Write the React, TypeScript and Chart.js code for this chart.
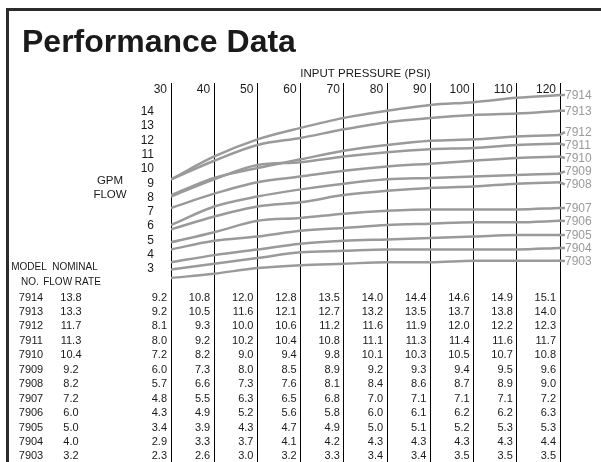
import React, { useEffect, useRef } from 'react';
import { Chart, registerables } from 'chart.js';

Chart.register(...registerables);

// ---- Data ----
const pressures = [30, 40, 50, 60, 70, 80, 90, 100, 110, 120];
const models = ['7914', '7913', '7912', '7911', '7910', '7909', '7908', '7907', '7906', '7905', '7904', '7903'];
const nominalFlow = [13.8, 13.3, 11.7, 11.3, 10.4, 9.2, 8.2, 7.2, 6.0, 5.0, 4.0, 3.2];
const flow7914 = [9.2, 10.8, 12.0, 12.8, 13.5, 14.0, 14.4, 14.6, 14.9, 15.1];
const flow7913 = [9.2, 10.5, 11.6, 12.1, 12.7, 13.2, 13.5, 13.7, 13.8, 14.0];
const flow7912 = [8.1, 9.3, 10.0, 10.6, 11.2, 11.6, 11.9, 12.0, 12.2, 12.3];
const flow7911 = [8.0, 9.2, 10.2, 10.4, 10.8, 11.1, 11.3, 11.4, 11.6, 11.7];
const flow7910 = [7.2, 8.2, 9.0, 9.4, 9.8, 10.1, 10.3, 10.5, 10.7, 10.8];
const flow7909 = [6.0, 7.3, 8.0, 8.5, 8.9, 9.2, 9.3, 9.4, 9.5, 9.6];
const flow7908 = [5.7, 6.6, 7.3, 7.6, 8.1, 8.4, 8.6, 8.7, 8.9, 9.0];
const flow7907 = [4.8, 5.5, 6.3, 6.5, 6.8, 7.0, 7.1, 7.1, 7.1, 7.2];
const flow7906 = [4.3, 4.9, 5.2, 5.6, 5.8, 6.0, 6.1, 6.2, 6.2, 6.3];
const flow7905 = [3.4, 3.9, 4.3, 4.7, 4.9, 5.0, 5.1, 5.2, 5.3, 5.3];
const flow7904 = [2.9, 3.3, 3.7, 4.1, 4.2, 4.3, 4.3, 4.3, 4.3, 4.4];
const flow7903 = [2.3, 2.6, 3.0, 3.2, 3.3, 3.4, 3.4, 3.5, 3.5, 3.5];
const flowSeries = [
  flow7914, flow7913, flow7912, flow7911, flow7910, flow7909,
  flow7908, flow7907, flow7906, flow7905, flow7904, flow7903,
];
const gpmTicks = [3, 4, 5, 6, 7, 8, 9, 10, 11, 12, 13, 14];

const FONT = '"Liberation Sans", Arial, Helvetica, sans-serif';
const CURVE_COLOR = '#9a9a9a';

const overlayPlugin = {
  id: 'perfOverlay',
  afterDraw(chart: any) {
    const ctx = chart.ctx as CanvasRenderingContext2D;
    const xs = chart.scales.x;
    const ys = chart.scales.y;
    const area = chart.chartArea;
    ctx.save();

    // frame
    ctx.fillStyle = '#2b2b2b';
    ctx.fillRect(6, 8, 595, 3);
    ctx.fillRect(6, 8, 3, 454);

    // title
    ctx.fillStyle = '#1a1a1a';
    ctx.font = `bold 32px ${FONT}`;
    ctx.textAlign = 'left';
    ctx.textBaseline = 'alphabetic';
    ctx.fillText('Performance Data', 22, 51.5);

    // axis title
    ctx.font = `11.5px ${FONT}`;
    ctx.textAlign = 'center';
    ctx.textBaseline = 'middle';
    ctx.fillText('INPUT PRESSURE (PSI)', (area.left + area.right) / 2, 73.5);

    // x tick labels
    ctx.font = `12px ${FONT}`;
    ctx.textAlign = 'right';
    pressures.forEach((p) => {
      ctx.fillText(String(p), xs.getPixelForValue(p) - 4, 89.5);
    });

    // y tick labels
    gpmTicks.forEach((v) => {
      ctx.fillText(String(v), 154, ys.getPixelForValue(v) + 1);
    });

    // GPM FLOW
    ctx.font = `11.5px ${FONT}`;
    ctx.textAlign = 'center';
    ctx.fillText('GPM', 110, 180.5);
    ctx.fillText('FLOW', 110, 194.5);

    // curve labels with simple collision avoidance
    const last = pressures.length - 1;
    const xEnd = xs.getPixelForValue(pressures[last]);
    const endY = flowSeries.map((s) => ys.getPixelForValue(s[last]));
    const labY = endY.slice();
    const gap = 13;
    for (let it = 0; it < 30; it++) {
      for (let i = 0; i < labY.length - 1; i++) {
        const d = labY[i + 1] - labY[i];
        if (d < gap) {
          const push = (gap - d) / 2;
          labY[i] -= push;
          labY[i + 1] += push;
        }
      }
    }
    ctx.strokeStyle = CURVE_COLOR;
    ctx.lineWidth = 2.5;
    ctx.font = `12px ${FONT}`;
    ctx.textAlign = 'left';
    ctx.fillStyle = '#9a9a9a';
    models.forEach((m, i) => {
      ctx.beginPath();
      ctx.moveTo(xEnd - 1, endY[i]);
      ctx.lineTo(xEnd + 5, labY[i]);
      ctx.stroke();
      ctx.fillText(m, xEnd + 5, labY[i] + 0.5);
    });

    // table
    ctx.fillStyle = '#1a1a1a';
    ctx.font = `10px ${FONT}`;
    ctx.textAlign = 'center';
    ctx.fillText('MODEL', 29, 267);
    ctx.fillText('NO.', 30, 282);
    ctx.fillText('NOMINAL', 75, 267);
    ctx.fillText('FLOW RATE', 72, 282);
    ctx.font = `11px ${FONT}`;
    const rowTop = 297.5;
    const rowStep = 14.45;
    models.forEach((m, i) => {
      const y = rowTop + i * rowStep;
      ctx.textAlign = 'center';
      ctx.fillText(m, 31, y);
      ctx.fillText(nominalFlow[i].toFixed(1), 71, y);
      ctx.textAlign = 'right';
      flowSeries[i].forEach((v, j) => {
        ctx.fillText(v.toFixed(1), xs.getPixelForValue(pressures[j]) - 4, y);
      });
    });

    ctx.restore();
  },
};

export default function App() {
  const ref = useRef<HTMLCanvasElement | null>(null);
  useEffect(() => {
    if (!ref.current) return;
    const chart = new Chart(ref.current, {
      type: 'line',
      data: {
        datasets: models.map((m, i) => ({
          label: m,
          data: pressures.map((p, j) => ({ x: p, y: flowSeries[i][j] })),
          borderColor: CURVE_COLOR,
          borderWidth: 2.5,
          pointRadius: 0,
          fill: false,
          cubicInterpolationMode: 'monotone' as const,
        })),
      },
      options: {
        animation: false,
        responsive: false,
        devicePixelRatio: 1,
        layout: { padding: { left: 171, right: 41, top: 83, bottom: 0 } },
        plugins: { legend: { display: false }, tooltip: { enabled: false } },
        events: [],
        scales: {
          x: {
            type: 'linear',
            position: 'top',
            min: 30,
            max: 120,
            ticks: { display: false, stepSize: 10 },
            grid: { color: '#000', lineWidth: 1, drawTicks: false },
            border: { display: false },
          },
          y: {
            type: 'linear',
            display: false,
            min: -10.57,
            max: 15.94,
          },
        },
      },
      plugins: [overlayPlugin],
    });
    return () => chart.destroy();
  }, []);
  return (
    <div style={{ position: 'absolute', left: 0, top: 0, width: 601, height: 462, background: '#fff' }}>
      <canvas ref={ref} width={601} height={462} style={{ display: 'block', width: 601, height: 462 }} />
    </div>
  );
}
